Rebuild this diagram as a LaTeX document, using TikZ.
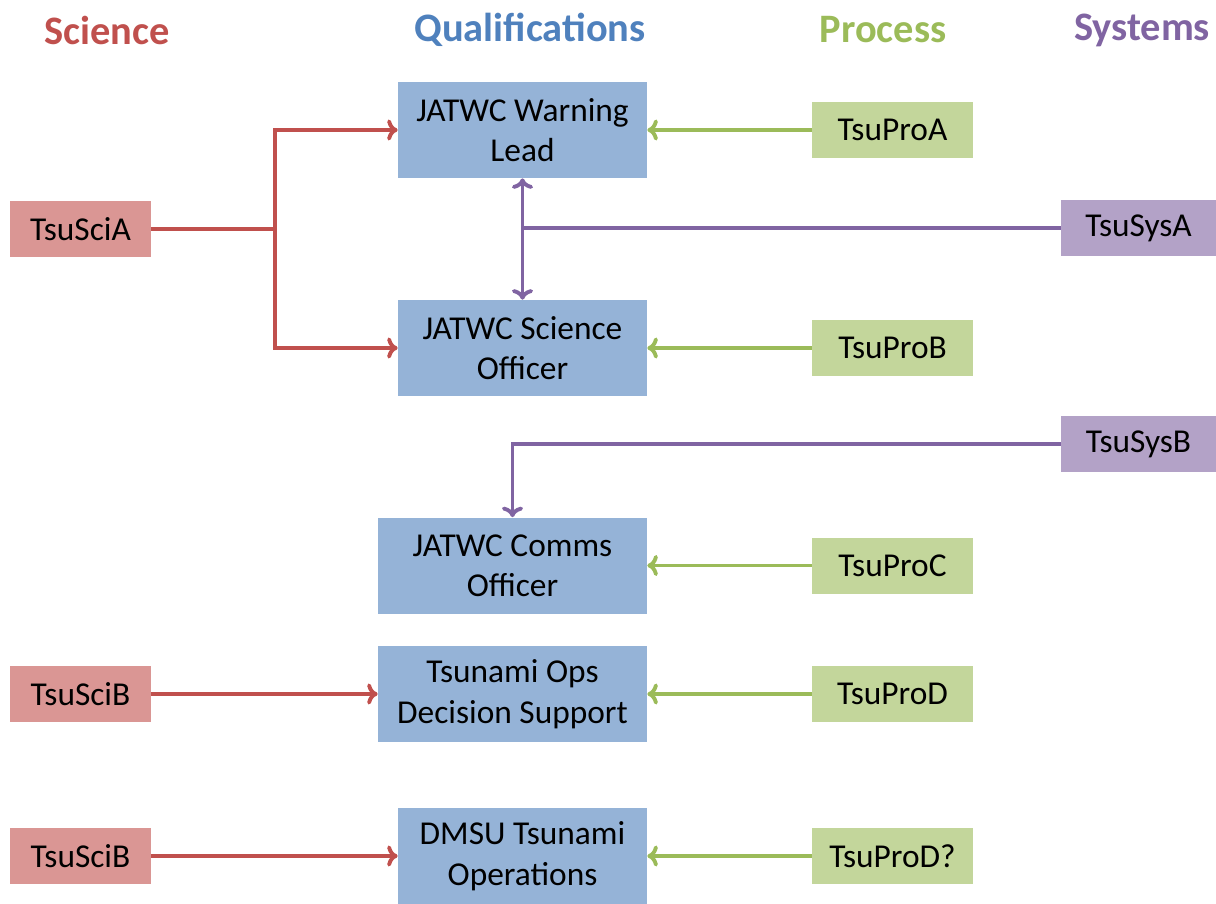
\documentclass[tikz,border=0pt]{standalone}
\usepackage{fontspec}
\setmainfont{Carlito}
\usetikzlibrary{arrows.meta}

\definecolor{scired}{HTML}{C0504D}
\definecolor{scifill}{HTML}{DA9694}
\definecolor{qualblue}{HTML}{4F81BD}
\definecolor{qualfill}{HTML}{95B3D7}
\definecolor{progreen}{HTML}{9BBB59}
\definecolor{profill}{HTML}{C3D69B}
\definecolor{syspurple}{HTML}{8064A2}
\definecolor{sysfill}{HTML}{B3A2C7}

\tikzset{
  head/.style = {font=\fontsize{23}{27}\selectfont\bfseries},
  small/.style = {fill=#1, minimum height=1.12cm, inner sep=0pt,
                  font=\fontsize{19}{23}\selectfont},
  qual/.style = {fill=qualfill, minimum width=4.98cm, minimum height=1.92cm,
                 align=center, inner sep=0pt, font=\fontsize{19}{23}\selectfont},
  link/.style = {line width=2.2pt, draw=#1},
  tip/.style = {-{To[length=6pt,width=12pt]}}
}

\begin{document}
\begin{tikzpicture}[x=0.02cm, y=-0.02cm]

\useasboundingbox (0,0) rectangle (1216,903);

% column headings
\node[head, scired] (hsci) at (107,30) {Science};
\node[head, qualblue] (hqual) at (530,30) {Qualifications};
\node[head, progreen] (hpro) at (883,30) {Process};
\node[head, syspurple] (hsys) at (1142,30) {Systems};

% qualifications
\node[qual] (lead) at (522.5,130) {JATWC Warning\\Lead};
\node[qual] (sciofficer) at (522.5,348) {JATWC Science\\Officer};
\node[qual, minimum width=5.38cm] (comms) at (512.5,565.5) {JATWC Comms\\Officer};
\node[qual, minimum width=5.38cm] (ops) at (512.5,694) {Tsunami Ops\\Decision Support};
\node[qual] (dmsu) at (522.5,856) {DMSU Tsunami\\Operations};

% science
\node[small=scifill, minimum width=2.82cm] (sciA) at (80.5,229) {TsuSciA};
\node[small=scifill, minimum width=2.82cm] (sciB) at (80.5,694) {TsuSciB};
\node[small=scifill, minimum width=2.82cm] (sciC) at (80.5,856) {TsuSciB};

% process
\node[small=profill, minimum width=3.22cm] (proA) at (892.5,130) {TsuProA};
\node[small=profill, minimum width=3.22cm] (proB) at (892.5,348) {TsuProB};
\node[small=profill, minimum width=3.22cm] (proC) at (892.5,565.5) {TsuProC};
\node[small=profill, minimum width=3.22cm] (proD) at (892.5,694) {TsuProD};
\node[small=profill, minimum width=3.22cm] (proE) at (892.5,856) {TsuProD?};

% systems
\node[small=sysfill, minimum width=3.1cm] (sysA) at (1138.5,228) {TsuSysA};
\node[small=sysfill, minimum width=3.1cm] (sysB) at (1138.5,444) {TsuSysB};

\coordinate (fork) at (275,229);
\coordinate (tee) at (lead.south |- sysA.west);

% science links
\draw[link=scired] (sciA.east) -- (fork);
\draw[link=scired, tip] (fork) |- (lead.west);
\draw[link=scired, tip] (fork) |- (sciofficer.west);
\draw[link=scired, tip] (sciB.east) -- (ops.west);
\draw[link=scired, tip] (sciC.east) -- (dmsu.west);

% process links
\draw[link=progreen, tip] (proA.west) -- (lead.east);
\draw[link=progreen, tip] (proB.west) -- (sciofficer.east);
\draw[link=progreen, tip] (proC.west) -- (comms.east);
\draw[link=progreen, tip] (proD.west) -- (ops.east);
\draw[link=progreen, tip] (proE.west) -- (dmsu.east);

% systems links
\draw[link=syspurple] (sysA.west) -- (tee);
\draw[link=syspurple, {To[length=6pt,width=12pt]}-{To[length=6pt,width=12pt]}] (lead.south) -- (sciofficer.north);
\draw[link=syspurple, tip] (sysB.west) -| (comms.north);

\end{tikzpicture}
\end{document}
